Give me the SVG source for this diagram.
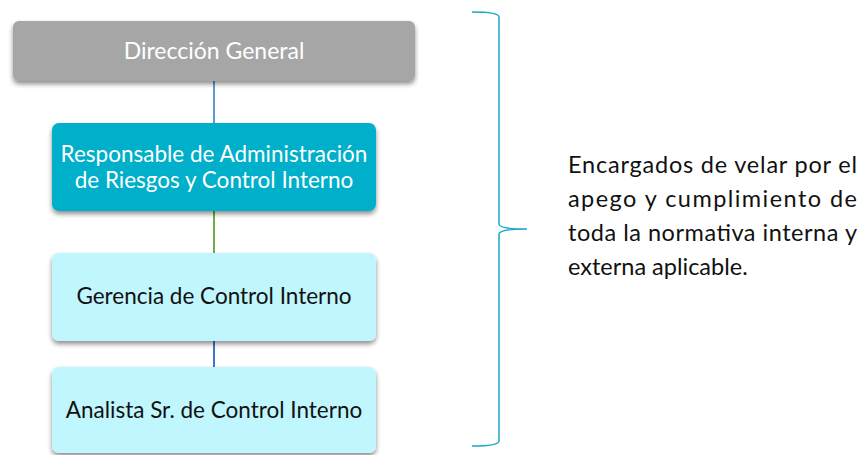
<svg xmlns="http://www.w3.org/2000/svg" width="863" height="455" viewBox="0 0 863 455">
<style>
.t{font-family:Lato,"Open Sans","Liberation Sans",sans-serif;font-size:22.5px;text-anchor:middle}
.w{fill:#ffffff}
.k{fill:#111111}
.c{stroke-width:2;fill:none}
.note{font-family:Lato,"Open Sans","Liberation Sans",sans-serif;font-size:23.5px;fill:#111111}
</style>
<defs>
<filter id="sh" x="-10%" y="-20%" width="120%" height="150%">
<feGaussianBlur in="SourceAlpha" stdDeviation="2.5"/>
<feOffset dx="0" dy="3" result="b"/>
<feComponentTransfer><feFuncA type="linear" slope="0.45"/></feComponentTransfer>
<feMerge><feMergeNode/><feMergeNode in="SourceGraphic"/></feMerge>
</filter>
</defs>
<rect width="863" height="455" fill="#ffffff"/>
<g id="connectors">
<line class="c" x1="214" y1="81" x2="214" y2="123" stroke="#5b9bd5"/>
<line class="c" x1="214" y1="211" x2="214" y2="253" stroke="#70ad47"/>
<line class="c" x1="214" y1="341" x2="214" y2="367" stroke="#4472c4"/>
</g>
<g id="direccion">
<rect x="13" y="21" width="402" height="60" rx="6" fill="#a6a6a6" filter="url(#sh)"/>
<text class="t w" x="214" y="59" style="font-size:23px">Dirección General</text>
</g>
<g id="responsable">
<rect x="52" y="123" width="324" height="88" rx="7" fill="#00afc9" filter="url(#sh)"/>
<text class="t w" x="214" y="162">Responsable de Administración</text>
<text class="t w" x="214" y="188">de Riesgos y Control Interno</text>
</g>
<g id="gerencia">
<rect x="52" y="253" width="324" height="88" rx="7" fill="#c0f6fd" filter="url(#sh)"/>
<text class="t k" x="214" y="304">Gerencia de Control Interno</text>
</g>
<g id="analista">
<rect x="52" y="367" width="324" height="86" rx="7" fill="#c0f6fd" filter="url(#sh)"/>
<text class="t k" x="214" y="418">Analista Sr. de Control Interno</text>
</g>
<g id="brace">
<path d="M472,12 Q499,12 499,17 L499,224 Q499,229 527,229 Q499,229 499,234 L499,441 Q499,446 472,446" fill="none" stroke="#1aa9c6" stroke-width="1.5"/>
</g>
<g id="note">
<text class="note" x="568" y="173" textLength="289" lengthAdjust="spacing">Encargados de velar por el</text>
<text class="note" x="568" y="207" textLength="289" lengthAdjust="spacing">apego y cumplimiento de</text>
<text class="note" x="568" y="241" textLength="289" lengthAdjust="spacing">toda la normativa interna y</text>
<text class="note" x="568" y="275">externa aplicable.</text>
</g>
</svg>
